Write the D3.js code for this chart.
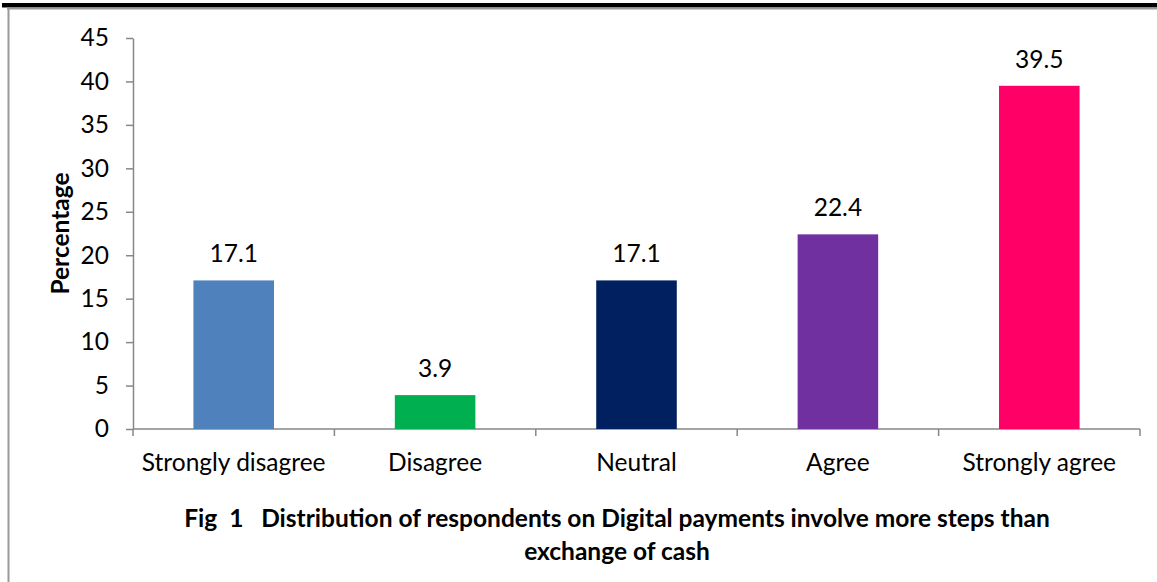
<!DOCTYPE html>
<html>
<head>
<meta charset="utf-8">
<script src="https://cdn.jsdelivr.net/npm/d3@7"></script>
<style>
  html, body { margin: 0; padding: 0; background: #fff; }
  svg { display: block; font-family: Lato, "Open Sans", sans-serif; }
</style>
</head>
<body>
<svg id="chart" width="1157" height="582"></svg>
<script>
// Survey responses: share of respondents per answer (percent)
const categories = ["Strongly disagree", "Disagree", "Neutral", "Agree", "Strongly agree"];
const percentages = [17.1, 3.9, 17.1, 22.4, 39.5];
const barColors = ["#4F81BD", "#00B050", "#002060", "#7030A0", "#FF0066"];
const yTicks = [0, 5, 10, 15, 20, 25, 30, 35, 40, 45];
const titleLines = [
  "Fig  1   Distribution of respondents on Digital payments involve more steps than",
  "exchange of cash"
];
const yAxisLabel = "Percentage";

const svg = d3.select("#chart");
const W = 1157, H = 582;
const plot = { left: 133, right: 1140, top: 38, bottom: 429 };
const fontSize = 24.5;

// Page frame: heavy rule on top, thin grey rule under it and down the left side
svg.append("rect").attr("x", 2).attr("y", 3).attr("width", W - 2).attr("height", 4.5).attr("fill", "#000");
svg.append("line").attr("x1", 7).attr("x2", W).attr("y1", 8.5).attr("y2", 8.5)
  .attr("stroke", "#9a9a9a").attr("stroke-width", 2);
svg.append("line").attr("x1", 8.5).attr("x2", 8.5).attr("y1", 7.5).attr("y2", H)
  .attr("stroke", "#9a9a9a").attr("stroke-width", 2);

const x = d3.scaleBand()
  .domain(categories)
  .range([plot.left, plot.right])
  .paddingInner(0.6)
  .paddingOuter(0.3);

const y = d3.scaleLinear().domain([0, 45]).range([plot.bottom, plot.top]);

const axisColor = "#878787";

// Y axis
const yAxis = svg.append("g")
  .attr("transform", `translate(${plot.left},0)`)
  .call(d3.axisLeft(y).tickValues(yTicks).tickSize(7).tickPadding(17).tickSizeOuter(0));
yAxis.select(".domain").attr("stroke", axisColor).attr("stroke-width", 1.5);
yAxis.selectAll(".tick line").attr("stroke", axisColor).attr("stroke-width", 1.5);
yAxis.selectAll(".tick text").attr("fill", "#000").attr("font-size", fontSize).attr("font-family", "Lato, sans-serif");

// X axis: line with category boundary ticks
const xAxisG = svg.append("g").attr("transform", `translate(0,${plot.bottom})`);
xAxisG.append("line").attr("x1", plot.left).attr("x2", plot.right).attr("y1", 0).attr("y2", 0)
  .attr("stroke", axisColor).attr("stroke-width", 1.5);
const boundaries = d3.range(categories.length + 1).map(i => plot.left + i * (plot.right - plot.left) / categories.length);
xAxisG.selectAll("line.bound").data(boundaries).join("line")
  .attr("class", "bound")
  .attr("x1", d => d).attr("x2", d => d).attr("y1", 0).attr("y2", 7)
  .attr("stroke", axisColor).attr("stroke-width", 1.5);
xAxisG.selectAll("text.cat").data(categories).join("text")
  .attr("class", "cat")
  .attr("x", d => x(d) + x.bandwidth() / 2)
  .attr("y", 42)
  .attr("text-anchor", "middle")
  .attr("font-size", fontSize)
  .attr("fill", "#000")
  .text(d => d);

// Bars
const data = categories.map((c, i) => ({ c, v: percentages[i], color: barColors[i] }));
svg.append("g").selectAll("rect").data(data).join("rect")
  .attr("x", d => x(d.c))
  .attr("width", x.bandwidth())
  .attr("y", d => y(d.v))
  .attr("height", d => y(0) - y(d.v))
  .attr("fill", d => d.color);

// Value labels
svg.append("g").selectAll("text").data(data).join("text")
  .attr("x", d => x(d.c) + x.bandwidth() / 2)
  .attr("y", d => y(d.v) - 18)
  .attr("text-anchor", "middle")
  .attr("font-size", fontSize)
  .attr("fill", "#000")
  .text(d => d.v.toFixed(1));

// Y axis title
svg.append("text")
  .attr("transform", `translate(69,${(plot.top + plot.bottom) / 2}) rotate(-90)`)
  .attr("text-anchor", "middle")
  .attr("font-size", fontSize)
  .attr("font-weight", "bold")
  .attr("fill", "#000")
  .text(yAxisLabel);

// Figure caption
svg.append("g").selectAll("text").data(titleLines).join("text")
  .attr("x", 617)
  .attr("y", (d, i) => 527 + i * 33)
  .attr("text-anchor", "middle")
  .attr("font-size", fontSize)
  .attr("font-weight", "bold")
  .attr("fill", "#000")
  .attr("xml:space", "preserve")
  .style("white-space", "pre")
  .text(d => d);
</script>
</body>
</html>
